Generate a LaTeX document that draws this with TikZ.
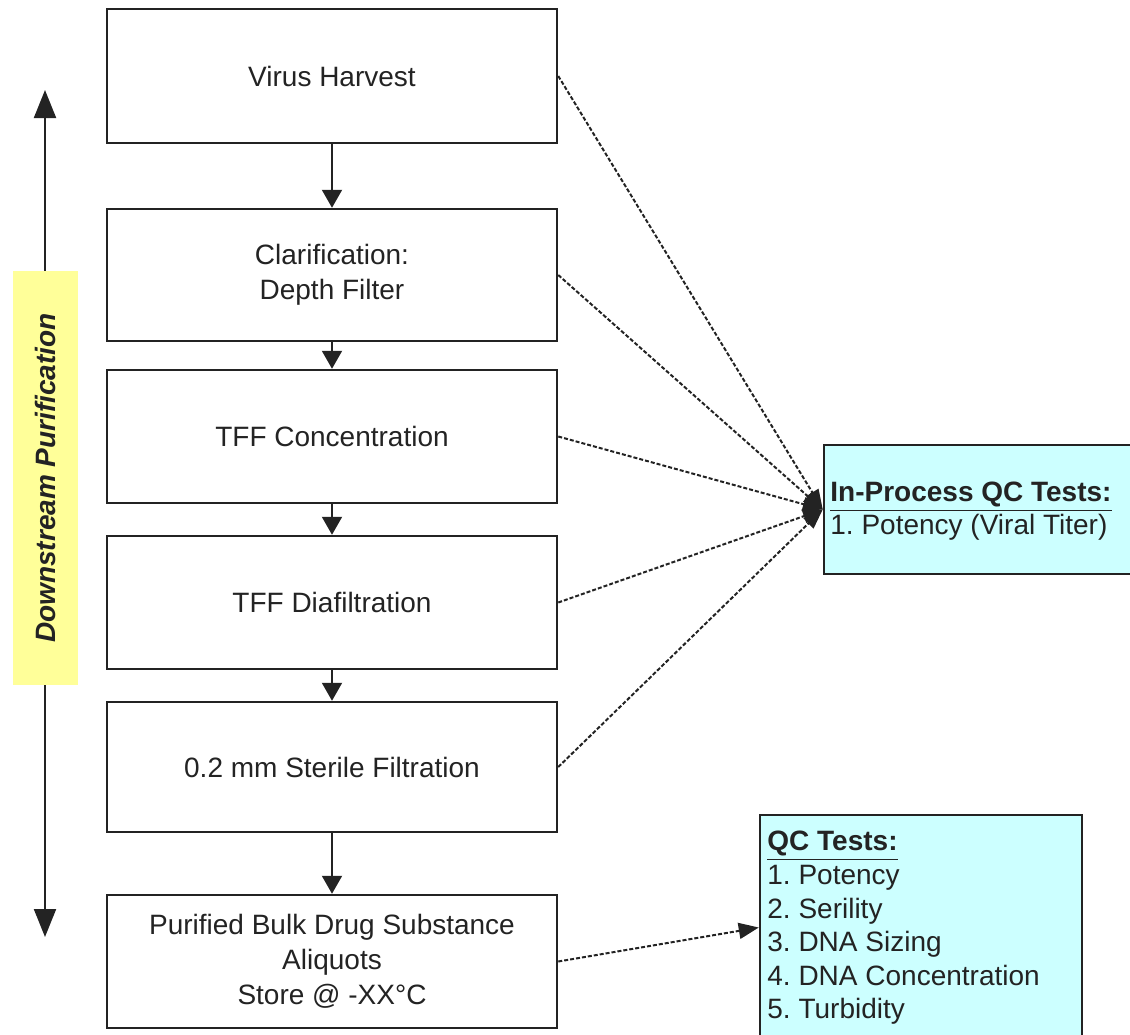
\documentclass[tikz,border=0pt]{standalone}
\usepackage{fontspec}
\setmainfont{Liberation Sans}
\usetikzlibrary{arrows.meta}
\definecolor{ink}{RGB}{35,35,35}
\definecolor{qccyan}{RGB}{204,255,255}
\definecolor{baryellow}{RGB}{255,255,153}
\frenchspacing
\begin{document}
\begin{tikzpicture}[x=0.5pt,y=-0.5pt,
  stepbox/.style={draw=ink, line width=1.25pt, rectangle, minimum width=225pt, text=ink,
    font=\fontsize{14}{17.5}\selectfont, align=center, inner sep=0pt},
  flow/.style={draw=ink, line width=1pt, -{Triangle[length=9pt,width=10pt]}},
  qcline/.style={draw=ink, line width=1pt, dash pattern=on 2pt off 1pt,
    -{Triangle[length=10pt,width=7pt]}},
  qcbox/.style={draw=ink, line width=1.25pt, fill=qccyan, rectangle, inner sep=0pt},
  qctext/.style={text=ink, align=left, inner sep=0pt, anchor=north west}]
\useasboundingbox (0,0) rectangle (1130,1034);

% side arrow and bar
\coordinate (vtop) at (45,90);
\coordinate (vbot) at (45,937);
\draw[ink, line width=1pt, {Triangle[length=14pt,width=11pt]}-{Triangle[length=14pt,width=11pt]}] (vtop) -- (vbot);
\node[fill=baryellow, rotate=90, minimum width=207pt, minimum height=32.5pt, inner sep=0pt,
  text=ink, font=\fontsize{14}{17}\selectfont\bfseries\itshape] (bar) at (45.5,478) {Downstream Purification};

% process steps
\node[stepbox, minimum height=67pt] (vh) at (332,76) {Virus Harvest};
\node[stepbox, minimum height=66pt] (cl) at (332,275) {Clarification:\\Depth Filter};
\node[stepbox, minimum height=66.5pt] (tc) at (332,436.5) {TFF Concentration};
\node[stepbox, minimum height=66.5pt] (td) at (332,602.5) {TFF Diafiltration};
\node[stepbox, minimum height=65pt] (sf) at (332,767) {0.2 mm Sterile Filtration};
\node[stepbox, minimum height=66.5pt] (pb) at (332,961.5) {Purified Bulk Drug Substance\\Aliquots\\Store @ -XX°C};

\draw[flow] (vh.south) -- (cl.north);
\draw[flow] (cl.south) -- (tc.north);
\draw[flow] (tc.south) -- (td.north);
\draw[flow] (td.south) -- (sf.north);
\draw[flow] (sf.south) -- (pb.north);

% QC boxes
\node[qcbox, minimum width=155pt, minimum height=64.5pt] (ipq) at (979,509.5) {};
\node[qctext, font=\fontsize{14}{16.5}\selectfont] (ipqt) at (830,482)
  {\textbf{\underline{In-Process QC Tests:}}\\1. Potency (Viral Titer)};

\node[qcbox, minimum width=161pt, minimum height=112.5pt] (qct) at (921,927.5) {};
\node[qctext, font=\fontsize{14}{16.8}\selectfont] (qctt) at (767,831)
  {\textbf{\underline{QC Tests:}}\\1. Potency\\2. Serility\\3. DNA Sizing\\4. DNA Concentration\\5. Turbidity};

% dashed connectors
\draw[qcline] (vh.east) -- (ipq.west);
\draw[qcline] (cl.east) -- (ipq.west);
\draw[qcline] (tc.east) -- (ipq.west);
\draw[qcline] (td.east) -- (ipq.west);
\draw[qcline] (sf.east) -- (ipq.west);
\draw[qcline, -{Triangle[length=10pt,width=8pt]}] (pb.east) -- (qct.west);
\end{tikzpicture}
\end{document}
